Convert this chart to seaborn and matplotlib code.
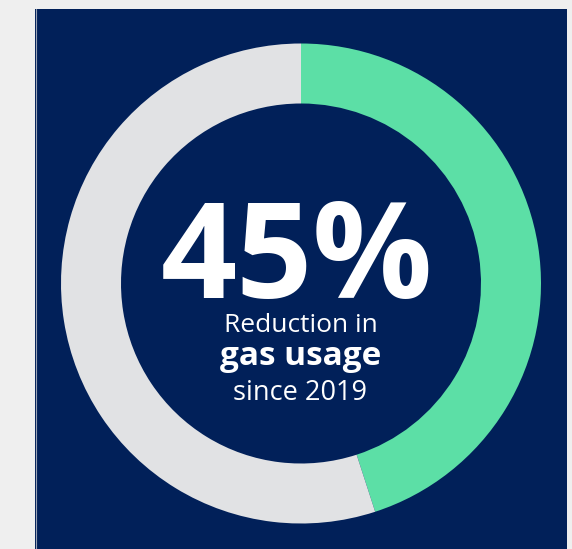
import matplotlib
matplotlib.use("Agg")
import matplotlib.pyplot as plt
from matplotlib.patches import Rectangle
import seaborn as sns

# Data
segments = ["Reduction", "Remaining"]
shares = [45, 55]
headline = "45%"
line1 = "Reduction in"
line2 = "gas usage"
line3 = "since 2019"

sns.set_theme(style="white")
plt.rcParams["font.family"] = ["Open Sans", "DejaVu Sans"]

NAVY = "#012059"
GREEN = "#5cdfa6"
GREY = "#e1e2e4"
PAGE = "#efefef"

W, H = 572, 549
fig = plt.figure(figsize=(W / 100, H / 100), dpi=100, facecolor=PAGE)
ax = fig.add_axes([0, 0, 1, 1])
ax.set_facecolor(PAGE)

# navy card
ax.add_patch(Rectangle((35, 0), 532, 540, facecolor=NAVY, edgecolor="none", zorder=0))
ax.plot([35.5, 35.5], [0, 540], color="#9aa3b5", lw=0.8, zorder=1)

cx, cy, r = 301, H - 283.5, 240
ax.pie(shares, colors=[GREEN, GREY], startangle=90, counterclock=False,
       center=(cx, cy), radius=r,
       wedgeprops=dict(width=60, edgecolor="none", linewidth=0))

ax.set_xlim(0, W)
ax.set_ylim(0, H)
ax.set_aspect("auto")
ax.axis("off")

ax.text(297, H - 298, headline, color="white", fontsize=96, fontweight="bold",
        ha="center", va="baseline")
ax.text(301, H - 332, line1, color="white", fontsize=19, ha="center", va="baseline")
ax.text(301, H - 365, line2, color="white", fontsize=24, fontweight="bold",
        ha="center", va="baseline")
ax.text(300, H - 400, line3, color="white", fontsize=19.5, ha="center", va="baseline")

fig.savefig("out.png", dpi=100, facecolor=PAGE)
